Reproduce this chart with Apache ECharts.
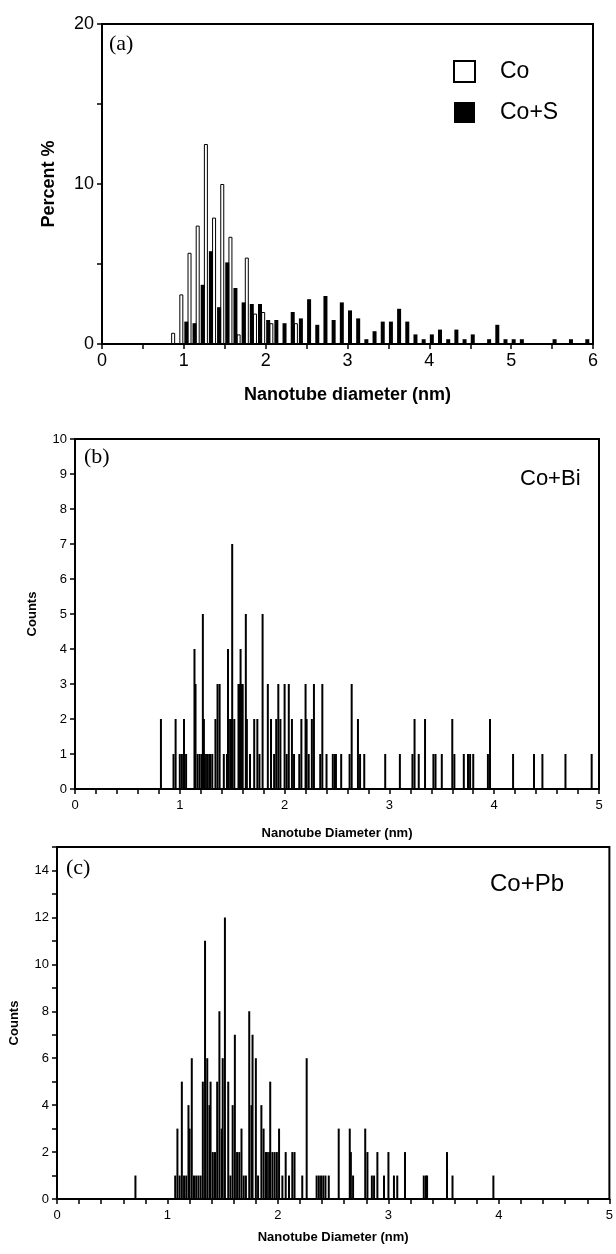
<!DOCTYPE html>
<html>
<head>
<meta charset="utf-8">
<script src="https://cdn.jsdelivr.net/npm/echarts@6/dist/echarts.min.js"></script>
<style>
  html, body { margin: 0; padding: 0; background: #fff; }
  #main { width: 616px; height: 1254px; }
</style>
</head>
<body>
<div id="main"></div>
<script>
// (a) percent per 0.1 nm bin
var coDiam = [0.9, 1.0, 1.1, 1.2, 1.3, 1.4, 1.5, 1.6, 1.7, 1.8, 1.9, 2.0, 2.1, 2.4];
var coPct  = [0.7, 3.1, 5.7, 7.4, 12.5, 7.9, 10.0, 6.7, 0.6, 5.4, 1.9, 2.0, 1.3, 1.3];
var coSDiam = [1.0, 1.1, 1.2, 1.3, 1.4, 1.5, 1.6, 1.7, 1.8, 1.9, 2.0, 2.1, 2.2, 2.3, 2.4, 2.5, 2.6, 2.7, 2.8, 2.9,
               3.0, 3.1, 3.2, 3.3, 3.4, 3.5, 3.6, 3.7, 3.8, 3.9, 4.0, 4.1, 4.2, 4.3, 4.4, 4.5, 4.7, 4.8, 4.9, 5.0,
               5.1, 5.5, 5.7, 5.9];
var coSPct  = [1.4, 1.3, 3.7, 5.8, 2.3, 5.1, 3.5, 2.6, 2.5, 2.5, 1.5, 1.5, 1.3, 2.0, 1.6, 2.8, 1.2, 3.0, 1.5, 2.6,
               2.1, 1.6, 0.3, 0.8, 1.4, 1.4, 2.2, 1.4, 0.6, 0.3, 0.6, 0.9, 0.3, 0.9, 0.3, 0.6, 0.3, 1.2, 0.3, 0.3,
               0.3, 0.3, 0.3, 0.3];

// (b) Co+Bi counts
var biDiam = [0.82, 0.94, 0.96, 1.00, 1.02, 1.04, 1.06, 1.14, 1.15, 1.17, 1.19, 1.21, 1.22, 1.23, 1.24, 1.26, 1.28, 1.29,
              1.31, 1.34, 1.36, 1.38, 1.42, 1.45, 1.46, 1.48, 1.49, 1.50, 1.52, 1.56, 1.57, 1.58, 1.59, 1.60, 1.63, 1.64,
              1.67, 1.71, 1.74, 1.76, 1.79, 1.84, 1.87, 1.90, 1.92, 1.94, 1.96, 2.00, 2.02, 2.04, 2.07, 2.09, 2.14,
              2.16, 2.20, 2.21, 2.23, 2.26, 2.28, 2.34, 2.36, 2.40, 2.46, 2.48, 2.49, 2.54, 2.62, 2.64, 2.70, 2.72,
              2.76, 2.96, 3.10, 3.22, 3.24, 3.28, 3.34, 3.42, 3.44, 3.50, 3.60, 3.62, 3.71, 3.75, 3.77, 3.80, 3.94,
              3.96, 4.18, 4.38, 4.46, 4.68, 4.93];
var biCount = [2, 1, 2, 1, 1, 2, 1, 4, 3, 1, 1, 1, 5, 2, 1, 1, 1, 1,
               1, 2, 3, 3, 1, 1, 4, 2, 2, 7, 2, 3, 3, 4, 3, 3, 5, 2,
               1, 2, 2, 1, 5, 3, 2, 1, 2, 3, 2, 3, 1, 3, 2, 1, 1,
               2, 3, 2, 1, 2, 3, 1, 3, 1, 1, 1, 1, 1, 1, 3, 2, 1,
               1, 1, 1, 1, 2, 1, 2, 1, 1, 1, 2, 1, 1, 1, 1, 1, 1,
               2, 1, 1, 1, 1, 1];

// (c) Co+Pb counts
var pbDiam = [0.71, 1.07, 1.09, 1.11, 1.13, 1.15, 1.17, 1.19, 1.20, 1.22, 1.24, 1.26, 1.28, 1.30, 1.32, 1.34, 1.36,
              1.38, 1.39, 1.41, 1.43, 1.45, 1.47, 1.49, 1.50, 1.52, 1.55, 1.57, 1.59, 1.61, 1.63, 1.65, 1.67, 1.69,
              1.71, 1.74, 1.76, 1.77, 1.80, 1.82, 1.85, 1.87, 1.89, 1.90, 1.92, 1.93, 1.95, 1.97, 1.99, 2.01, 2.04,
              2.07, 2.10, 2.13, 2.15, 2.22, 2.26, 2.35, 2.37, 2.39, 2.41, 2.43, 2.46, 2.55, 2.65, 2.66, 2.68, 2.79,
              2.81, 2.85, 2.87, 2.90, 2.96, 3.00, 3.05, 3.08, 3.15, 3.32, 3.34, 3.35, 3.53, 3.58, 3.95];
var pbCount = [1, 1, 3, 1, 5, 1, 1, 4, 3, 6, 1, 1, 1, 1, 5, 11, 6,
               4, 5, 2, 2, 5, 8, 3, 6, 12, 5, 1, 4, 7, 2, 2, 3, 1,
               1, 8, 4, 7, 6, 1, 4, 3, 2, 2, 2, 5, 2, 2, 2, 3, 1,
               2, 1, 2, 2, 1, 6, 1, 1, 1, 1, 1, 1, 3, 3, 2, 1, 3,
               2, 1, 1, 2, 1, 2, 1, 1, 2, 1, 1, 1, 2, 1, 1];

function pairs(xs, ys) {
    return xs.map(function (x, i) { return [x, ys[i]]; });
}
function intOnly(v) {
    return Math.abs(v - Math.round(v)) < 1e-6 ? String(Math.round(v)) : '';
}

var sans = '"Liberation Sans", Arial, sans-serif';
var serif = '"Liberation Serif", "Times New Roman", serif';
var black = '#000';

function xAxisOf(idx, max, step, fs, name, gap, margin) {
    return {
        type: 'value', gridIndex: idx, min: 0, max: max, interval: step,
        axisLine: { lineStyle: { color: black, width: 2 } },
        axisTick: { inside: false, length: 5, lineStyle: { color: black, width: 1.5 } },
        axisLabel: { color: black, fontFamily: sans, fontSize: fs, margin: margin, formatter: intOnly },
        splitLine: { show: false },
        name: name, nameLocation: 'middle', nameGap: gap,
        nameTextStyle: { color: black, fontFamily: sans, fontWeight: 'bold', fontSize: fs }
    };
}
function yAxisOf(idx, max, step, fs, fmt, name, gap) {
    return {
        type: 'value', gridIndex: idx, min: 0, max: max, interval: step,
        axisLine: { lineStyle: { color: black, width: 2 } },
        axisTick: { inside: false, length: 5, lineStyle: { color: black, width: 1.5 } },
        axisLabel: { color: black, fontFamily: sans, fontSize: fs, margin: 8, formatter: fmt },
        splitLine: { show: false },
        name: name, nameLocation: 'middle', nameGap: gap,
        nameTextStyle: { color: black, fontFamily: sans, fontWeight: 'bold', fontSize: fs }
    };
}

var myChart = echarts.init(document.getElementById('main'));

var option = {
    backgroundColor: '#fff',
    animation: false,
    grid: [
        { left: 102, top: 24, width: 491, height: 320, show: true, borderColor: black, borderWidth: 2 },
        { left: 75, top: 439, width: 524, height: 350, show: true, borderColor: black, borderWidth: 2 },
        { left: 56, top: 847, width: 556, height: 352, show: true, borderColor: black, borderWidth: 2 }
    ],
    xAxis: [
        xAxisOf(0, 6, 0.5, 18, 'Nanotube diameter (nm)', 42, 8),
        xAxisOf(1, 5, 0.2, 13, 'Nanotube Diameter (nm)', 38, 10),
        xAxisOf(2, 5, 0.2, 13, 'Nanotube Diameter (nm)', 32, 10)
    ],
    yAxis: [
        yAxisOf(0, 20, 5, 18, function (v) { return v % 10 === 0 ? String(v) : ''; }, 'Percent %', 44),
        yAxisOf(1, 10, 1, 13, function (v) { return String(v); }, 'Counts', 36),
        yAxisOf(2, 15, 1, 13, function (v) { return (v % 2 === 0 && v < 15) ? String(v) : ''; }, 'Counts', 36)
    ],
    legend: {
        orient: 'vertical', left: 448, top: 55,
        itemWidth: 21, itemHeight: 21, itemGap: 18,
        icon: 'rect',
        data: ['Co', 'Co+S'],
        textStyle: { color: black, fontFamily: sans, fontSize: 23, padding: [0, 0, 0, 20] }
    },
    series: [
        {
            name: 'Co', type: 'bar', xAxisIndex: 0, yAxisIndex: 0,
            barWidth: 4, barGap: '25%',
            itemStyle: { color: '#fff', borderColor: black, borderWidth: 1 },
            data: pairs(coDiam, coPct)
        },
        {
            name: 'Co+S', type: 'bar', xAxisIndex: 0, yAxisIndex: 0,
            barWidth: 4, barGap: '25%',
            itemStyle: { color: black },
            data: pairs(coSDiam, coSPct)
        },
        {
            name: 'Co+Bi', type: 'bar', xAxisIndex: 1, yAxisIndex: 1,
            barWidth: 2, itemStyle: { color: black },
            data: pairs(biDiam, biCount)
        },
        {
            name: 'Co+Pb', type: 'bar', xAxisIndex: 2, yAxisIndex: 2,
            barWidth: 2, itemStyle: { color: black },
            data: pairs(pbDiam, pbCount)
        }
    ],
    graphic: [
        { type: 'text', left: 109, top: 33, style: { text: '(a)', font: '22px ' + serif, fill: black } },
        { type: 'text', left: 84, top: 446, style: { text: '(b)', font: '22px ' + serif, fill: black } },
        { type: 'text', left: 520, top: 468, style: { text: 'Co+Bi', font: '22px ' + sans, fill: black } },
        { type: 'text', left: 66, top: 857, style: { text: '(c)', font: '22px ' + serif, fill: black } },
        { type: 'text', left: 490, top: 872, style: { text: 'Co+Pb', font: '24px ' + sans, fill: black } }
    ]
};

myChart.setOption(option);
</script>
</body>
</html>
